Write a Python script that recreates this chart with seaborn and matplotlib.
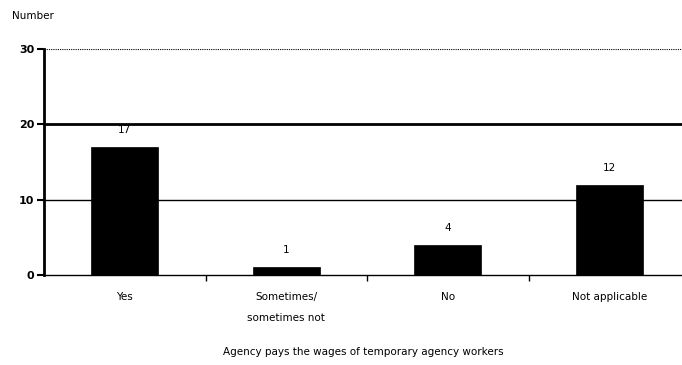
import matplotlib
matplotlib.use("Agg")
import matplotlib.pyplot as plt
import seaborn as sns
import pandas as pd

categories = ["Yes", "Sometimes/\nsometimes not", "No", "Not applicable"]
values = [17, 1, 4, 12]
yticks = [0, 10, 20, 30]

df = pd.DataFrame({"cat": categories, "val": values})

sns.set_theme(style="white")
plt.rcParams['font.family'] = ['DejaVu Sans']
plt.rcParams['text.color'] = 'black'
plt.rcParams['xtick.color'] = 'black'
plt.rcParams['ytick.color'] = 'black'
plt.rcParams['axes.labelcolor'] = 'black'

fig = plt.figure(figsize=(6.82, 3.65), dpi=100)
ax = fig.add_axes([44/682, 1-275/365, 1-44/682, (275-49)/365])

sns.barplot(data=df, x="cat", y="val", color="black", width=0.415,
            saturation=1, ax=ax, zorder=3, edgecolor="black", linewidth=0.5)

ax.set_ylim(0, 30)
ax.set_xlim(-0.5, -0.5 + 638/161.5)
ax.set_yticks(yticks)
ax.set_yticklabels([str(t) for t in yticks], fontsize=8, fontweight="bold")

# gridlines
ax.axhline(10, color="black", lw=1.0, zorder=1)
ax.axhline(20, color="black", lw=2.0, zorder=1)
ax.axhline(30, color="black", lw=0.8, ls=(0, (1, 1)), zorder=1)

for s in ["top", "right"]:
    ax.spines[s].set_visible(False)
ax.spines["left"].set_linewidth(2)
ax.spines["left"].set_color("black")
ax.spines["bottom"].set_linewidth(1)
ax.spines["bottom"].set_color("black")

ax.tick_params(axis="y", left=True, length=5, width=1.5, direction="out", pad=2, colors="black")
ax.set_xticks(range(len(categories)))
ax.set_xticklabels(categories, fontsize=7.5, linespacing=2.45)
ax.tick_params(axis="x", bottom=False, pad=6)
# category separators
ax.set_xticks([0.5, 1.5, 2.5], minor=True)
ax.tick_params(axis="x", which="minor", bottom=True, length=4, width=1, direction="out", color="black")

for i, v in enumerate(values):
    ax.text(i, v + 1.6, str(v), ha="center", va="bottom", fontsize=7.5, color="black")

ax.set_xlabel("Agency pays the wages of temporary agency workers", fontsize=7.5, labelpad=17, color="black")
ax.set_ylabel("")
fig.text(12/682, 1-16/365, "Number", fontsize=7.5, ha="left", va="center", color="black")

fig.savefig("out.png", dpi=100, facecolor="white")
